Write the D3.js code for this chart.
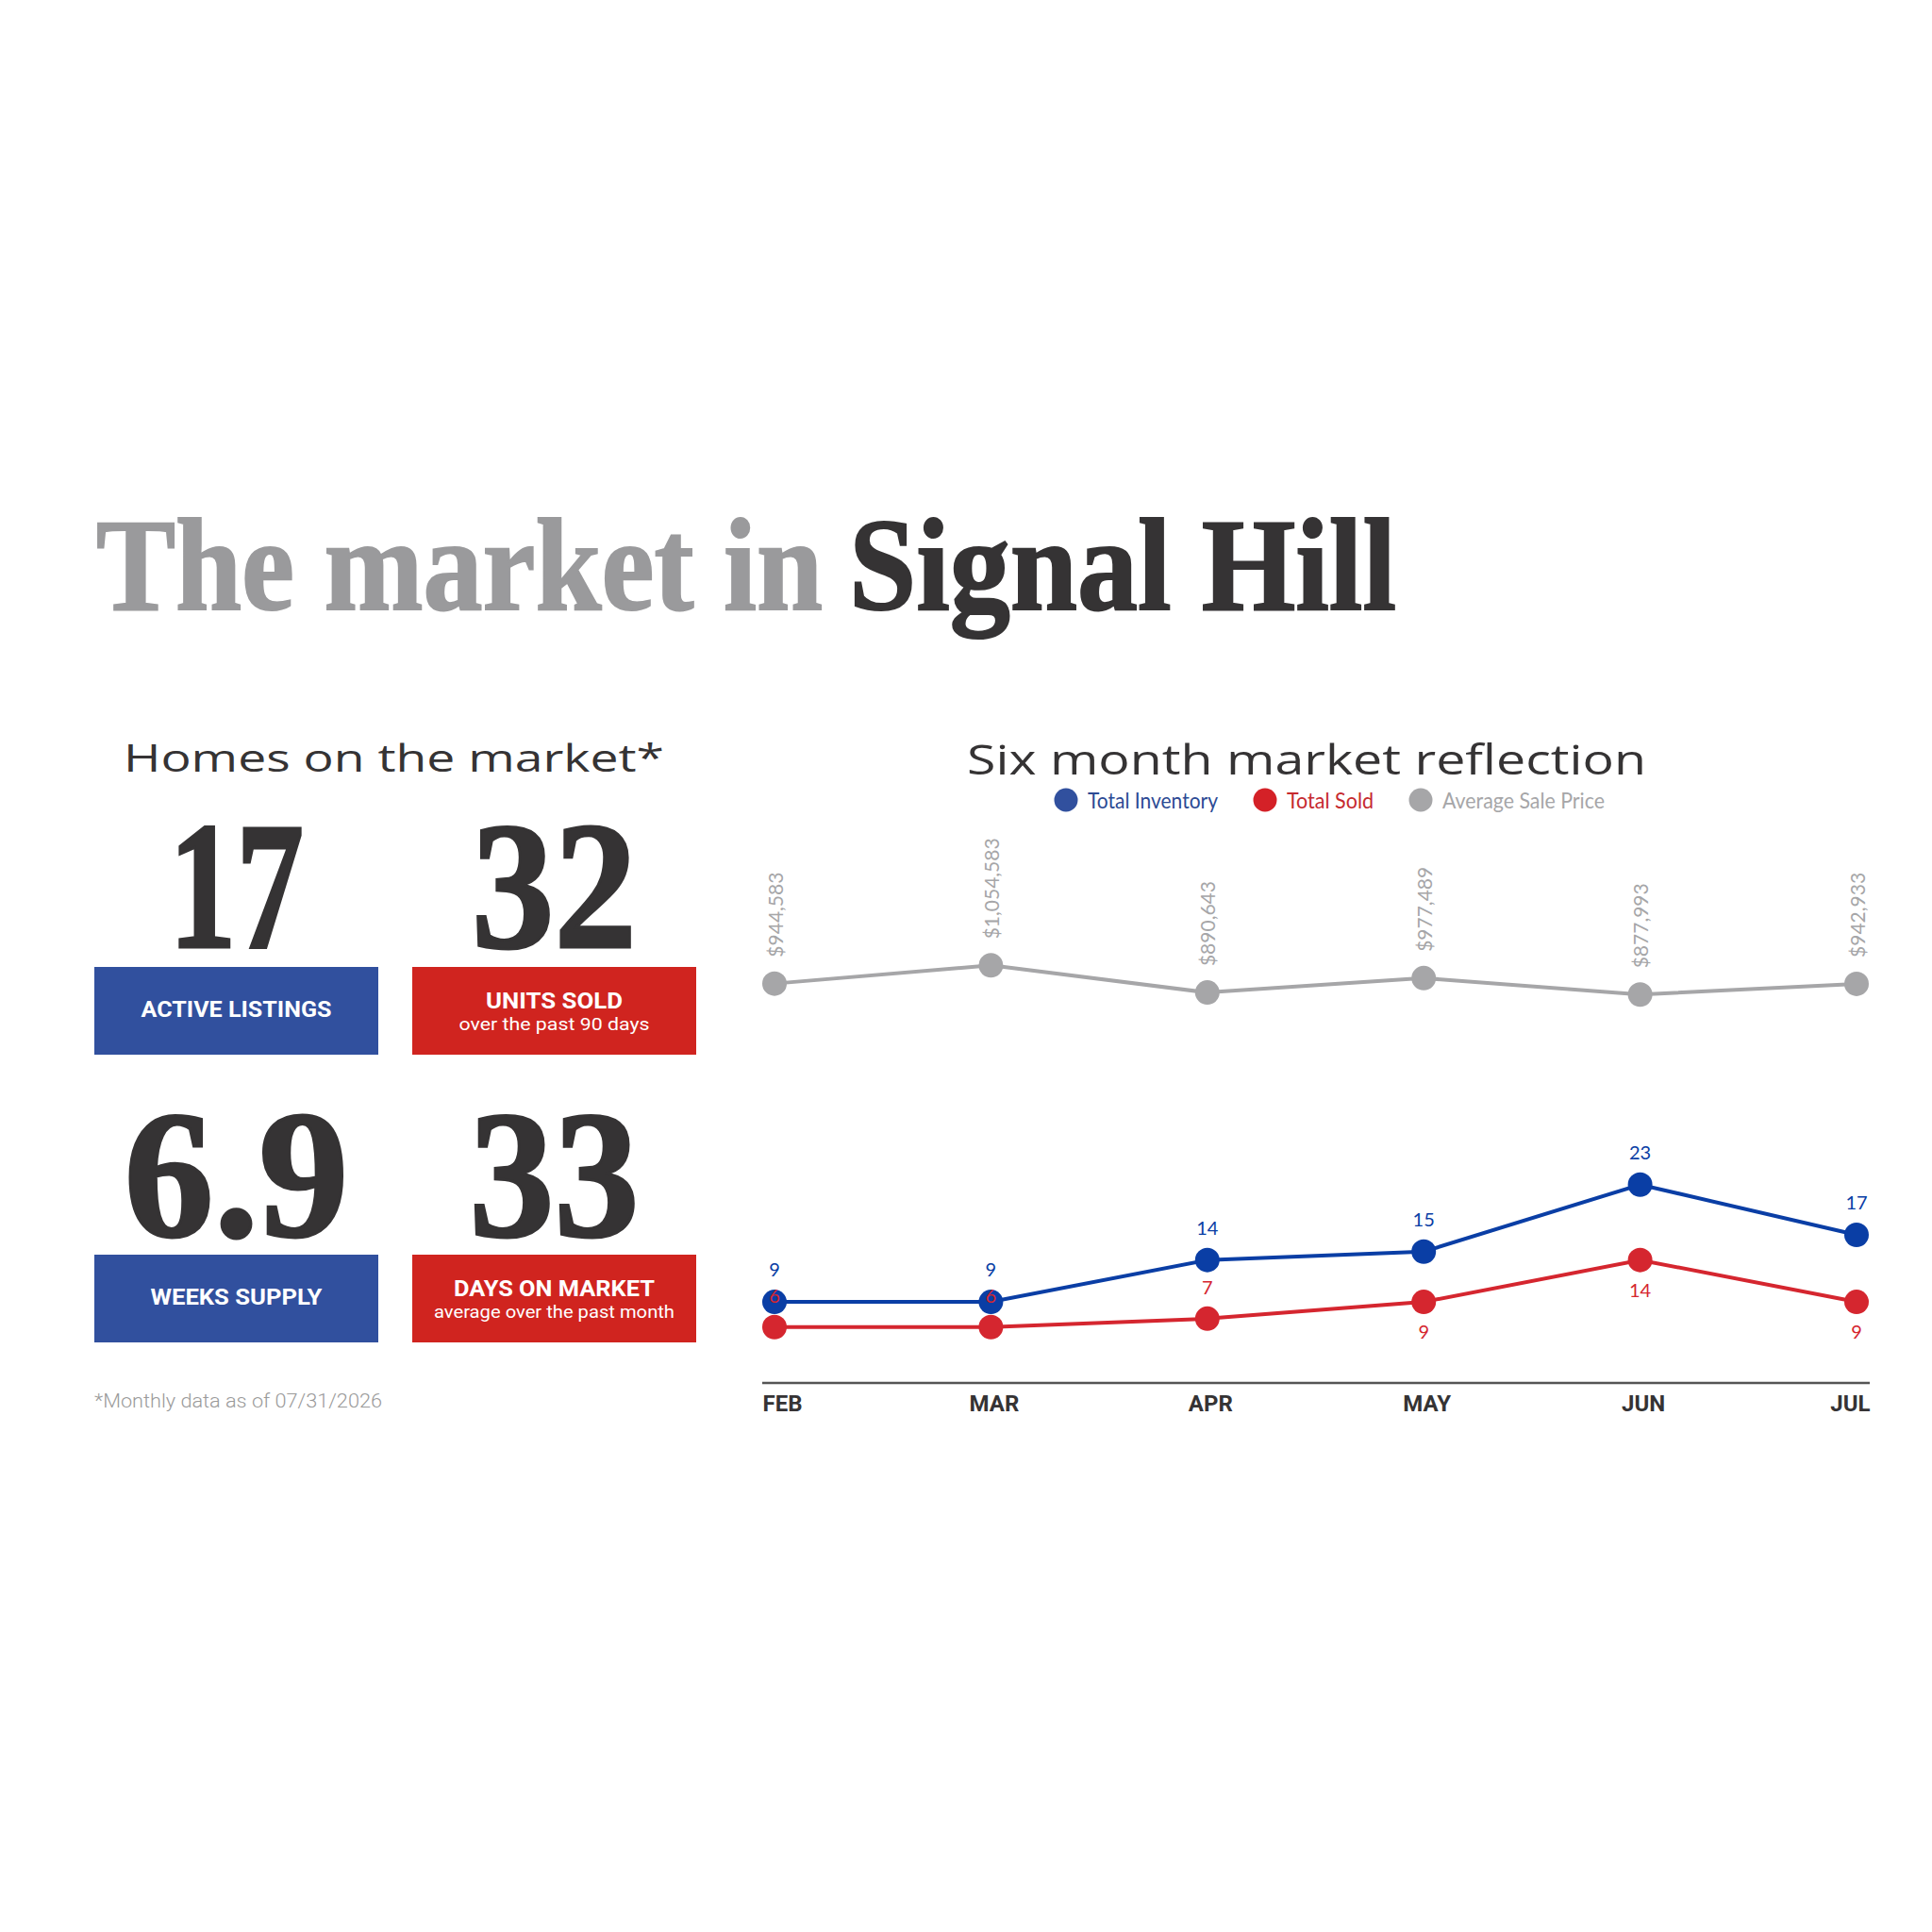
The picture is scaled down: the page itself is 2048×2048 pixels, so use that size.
<!DOCTYPE html>
<html>
<head>
<meta charset="utf-8">
<script src="https://cdn.jsdelivr.net/npm/d3@7"></script>
<style>
  html, body { margin: 0; padding: 0; background: #ffffff; }
  svg { display: block; }
</style>
</head>
<body>
<script>
// ---------------- DATA ----------------
const months = ["FEB", "MAR", "APR", "MAY", "JUN", "JUL"];
const totalInventory = [9, 9, 14, 15, 23, 17];
const totalSold = [6, 6, 7, 9, 14, 9];
const avgSalePrice = [944583, 1054583, 890643, 977489, 877993, 942933];

const kpiValues = ["17", "32", "6.9", "33"];
const kpiLabels = ["ACTIVE LISTINGS", "UNITS SOLD", "WEEKS SUPPLY", "DAYS ON MARKET"];
const kpiSublabels = ["", "over the past 90 days", "", "average over the past month"];

const legendLabels = ["Total Inventory", "Total Sold", "Average Sale Price"];

const titleGray = "The market in";
const titleDark = "Signal Hill";
const leftHeading = "Homes on the market*";
const rightHeading = "Six month market reflection";
const footnote = "*Monthly data as of 07/31/2026";

// ---------------- STYLE ----------------
const C = {
  dark: "#353334",
  titleGray: "#9a9a9c",
  boxBlue: "#31509e",
  boxRed: "#d0241f",
  lineBlue: "#0a3ea5",
  lineRed: "#d5262f",
  lineGray: "#a6a6a8",
  legBlue: "#31509e",
  legBlueText: "#2c4a94",
  legRed: "#d42127",
  legRedText: "#c62a2f",
  foot: "#9a9a9a"
};

const svg = d3.select("body").append("svg")
  .attr("width", 2048).attr("height", 2048)
  .attr("viewBox", "0 0 2048 2048");

svg.append("rect").attr("width", 2048).attr("height", 2048).attr("fill", "#fff");

// ---------------- TITLE ----------------
const serif = "'Liberation Serif', 'DejaVu Serif', serif";
svg.append("text")
  .attr("x", 102).attr("y", 646)
  .attr("font-family", serif).attr("font-weight", 700).attr("font-size", 140)
  .attr("fill", C.titleGray).attr("stroke", C.titleGray).attr("stroke-width", 2)
  .attr("textLength", 770).attr("lengthAdjust", "spacingAndGlyphs")
  .text(titleGray);
svg.append("text")
  .attr("x", 900).attr("y", 646)
  .attr("font-family", serif).attr("font-weight", 700).attr("font-size", 140)
  .attr("fill", C.dark).attr("stroke", C.dark).attr("stroke-width", 2)
  .attr("textLength", 580).attr("lengthAdjust", "spacingAndGlyphs")
  .text(titleDark);

// ---------------- HEADINGS ----------------
const wideSans = "'Open Sans', 'Noto Sans', sans-serif";
svg.append("text")
  .attr("x", 131).attr("y", 818)
  .attr("font-family", wideSans).attr("font-weight", 400).attr("font-size", 40)
  .attr("fill", C.dark)
  .attr("textLength", 573).attr("lengthAdjust", "spacingAndGlyphs")
  .text(leftHeading);
svg.append("text")
  .attr("x", 1025).attr("y", 821)
  .attr("font-family", wideSans).attr("font-weight", 400).attr("font-size", 43)
  .attr("fill", C.dark)
  .attr("textLength", 720).attr("lengthAdjust", "spacingAndGlyphs")
  .text(rightHeading);

// ---------------- KPI BLOCKS ----------------
const boxX = [100, 437];
const boxW = 301;
const boxH = 93;
const boxY = [1025, 1330];
const numBaseline = [1004, 1310];
const numLength = [143, 175, 238, 180];
const labelLength = [202, 145, 182, 213];
const subLength = [0, 202, 0, 255];
const condSans = "'Roboto', 'Liberation Sans', sans-serif";

kpiValues.forEach((v, i) => {
  const col = i % 2, row = Math.floor(i / 2);
  const bx = boxX[col], by = boxY[row];
  const cx = bx + boxW / 2;
  const fill = col === 0 ? C.boxBlue : C.boxRed;

  svg.append("text")
    .attr("x", cx).attr("y", numBaseline[row])
    .attr("text-anchor", "middle")
    .attr("font-family", serif).attr("font-weight", 700).attr("font-size", 192)
    .attr("fill", C.dark).attr("stroke", C.dark).attr("stroke-width", 3)
    .attr("textLength", numLength[i]).attr("lengthAdjust", "spacingAndGlyphs")
    .text(v);

  svg.append("rect")
    .attr("x", bx).attr("y", by).attr("width", boxW).attr("height", boxH)
    .attr("fill", fill);

  const hasSub = kpiSublabels[i] !== "";
  svg.append("text")
    .attr("x", cx).attr("y", hasSub ? by + 44 : by + 53)
    .attr("text-anchor", "middle")
    .attr("font-family", condSans).attr("font-weight", 700).attr("font-size", 24)
    .attr("fill", "#fff")
    .attr("textLength", labelLength[i]).attr("lengthAdjust", "spacingAndGlyphs")
    .text(kpiLabels[i]);
  if (hasSub) {
    svg.append("text")
      .attr("x", cx).attr("y", by + 67)
      .attr("text-anchor", "middle")
      .attr("font-family", condSans).attr("font-weight", 400).attr("font-size", 19)
      .attr("fill", "#fff")
      .attr("textLength", subLength[i]).attr("lengthAdjust", "spacingAndGlyphs")
      .text(kpiSublabels[i]);
  }
});

svg.append("text")
  .attr("x", 100).attr("y", 1492)
  .attr("font-family", condSans).attr("font-weight", 300).attr("font-size", 21)
  .attr("fill", C.foot)
  .attr("textLength", 305).attr("lengthAdjust", "spacingAndGlyphs")
  .text(footnote);

// ---------------- LEGEND ----------------
const legendX = [1130, 1341, 1506];
const legendCircle = [C.legBlue, C.legRed, C.lineGray];
const legendText = [C.legBlueText, C.legRedText, C.lineGray];
const legendLen = [138, 92, 172];
const labelSans = "'Lato', 'Noto Sans', sans-serif";
const legend = svg.append("g");
legendLabels.forEach((l, i) => {
  legend.append("circle").attr("cx", legendX[i]).attr("cy", 848).attr("r", 12.5)
    .attr("fill", legendCircle[i]);
  legend.append("text").attr("x", legendX[i] + 23).attr("y", 857)
    .attr("font-family", labelSans).attr("font-size", 23)
    .attr("fill", legendText[i])
    .attr("textLength", legendLen[i]).attr("lengthAdjust", "spacingAndGlyphs")
    .text(l);
});

// ---------------- CHART ----------------
const x = d3.scalePoint().domain(months).range([821, 1968]);
const yCount = d3.scaleLinear().domain([0, 25]).range([1460, 1238]);
const yPrice = d3.scaleLinear().domain([0, 1000000]).range([1208.4, 1032.9]);

// axis
const axisY = 1466;
const axisG = svg.append("g")
  .attr("transform", `translate(0,${axisY})`)
  .call(d3.axisBottom(x).tickSize(0).tickPadding(0));
axisG.select(".domain")
  .attr("d", "M808,0H1982")
  .attr("stroke", "#555").attr("stroke-width", 2.5);
axisG.selectAll(".tick text")
  .attr("dy", null)
  .attr("y", 30)
  .attr("font-family", condSans).attr("font-weight", 700).attr("font-size", 24)
  .attr("fill", C.dark)
  .attr("text-anchor", (d, i) => i === 0 ? "start" : (i === months.length - 1 ? "end" : "middle"))
  .attr("x", (d, i) => i === 0 ? 808 - x(d) : (i === months.length - 1 ? 1982 - x(d) : 3));

function drawSeries(values, yScale, color, radius) {
  const line = d3.line().x((d, i) => x(months[i])).y(d => yScale(d));
  svg.append("path").datum(values)
    .attr("d", line).attr("fill", "none")
    .attr("stroke", color).attr("stroke-width", 4);
  svg.append("g").selectAll("circle").data(values).join("circle")
    .attr("cx", (d, i) => x(months[i])).attr("cy", d => yScale(d))
    .attr("r", radius).attr("fill", color);
}

drawSeries(avgSalePrice, yPrice, C.lineGray, 13);
drawSeries(totalSold, yCount, C.lineRed, 13);
drawSeries(totalInventory, yCount, C.lineBlue, 13);

// price labels (rotated)
const fmt = d3.format("$,");
svg.append("g").selectAll("text").data(avgSalePrice).join("text")
  .attr("transform", (d, i) => `translate(${x(months[i]) + 1},${yPrice(d) - 28}) rotate(-90)`)
  .attr("dy", "0.36em")
  .attr("font-family", labelSans).attr("font-weight", 400).attr("font-size", 21)
  .attr("fill", C.lineGray)
  .text(d => fmt(d));

// inventory labels (above)
svg.append("g").selectAll("text").data(totalInventory).join("text")
  .attr("x", (d, i) => x(months[i])).attr("y", d => yCount(d) - 27)
  .attr("text-anchor", "middle")
  .attr("font-family", labelSans).attr("font-size", 20)
  .attr("fill", C.lineBlue)
  .text(d => d);

// sold labels (above for the first half, below for the second half)
svg.append("g").selectAll("text").data(totalSold).join("text")
  .attr("x", (d, i) => x(months[i]))
  .attr("y", (d, i) => i < months.length / 2 ? yCount(d) - 26 : yCount(d) + 39)
  .attr("text-anchor", "middle")
  .attr("font-family", labelSans).attr("font-size", 20)
  .attr("fill", C.lineRed)
  .text(d => d);
</script>
</body>
</html>
